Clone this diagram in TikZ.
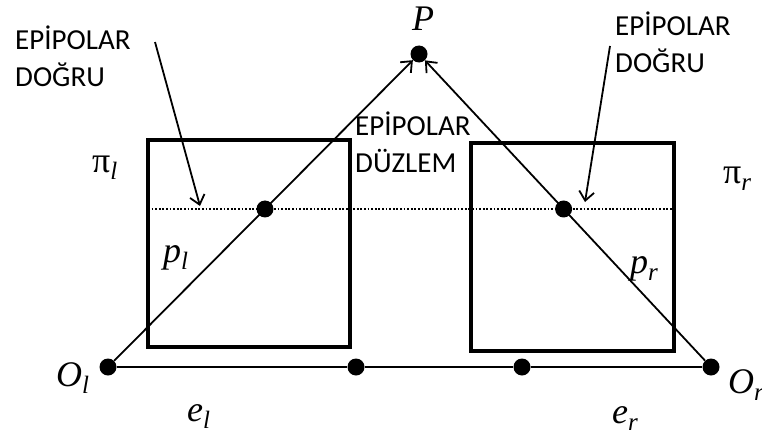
\documentclass[tikz,border=0pt]{standalone}
\usepackage{fontspec}
\setmainfont{Carlito}
\newfontfamily\serifpi{Liberation Serif}
\newcommand\eplabel[2]{#1\raisebox{-7pt}{\fontsize{25}{25}\selectfont\itshape #2}}
\usetikzlibrary{arrows.meta,calc}
\begin{document}
\begin{tikzpicture}[x=1pt,y=-1pt,
  dot/.style={circle,fill=black,inner sep=0pt,minimum size=17pt},
  frame/.style={draw=black,line width=3.2pt,inner sep=0pt},
  ray/.style={line width=1.8pt},
  epi/.style={line width=2.2pt,dash pattern=on 1.8pt off 1.8pt},
  lbl/.style={font=\fontsize{29}{37}\selectfont,align=left,inner sep=0pt,anchor=north west},
  mlbl/.style={font=\fontsize{36}{40}\selectfont\serifpi,inner sep=0pt,anchor=base west},
  tipc/.style={-{Straight Barb[length=9pt,width=15pt,line width=1.8pt]}}]
\useasboundingbox (0,0) rectangle (762,436);
% image planes
\node[frame,minimum width=202pt,minimum height=207pt] (Bl) at (249,243.5) {};
\node[frame,minimum width=203pt,minimum height=208pt] (Br) at (572.5,247) {};
% points
\node[dot] (P) at (419,54) {};
\node[dot] (Ol) at (108,367) {};
\node[dot] (Or) at (711,367) {};
\node[dot] (el) at (356,367) {};
\node[dot] (er) at (522,367) {};
\node[dot] (pl) at ($(Ol)!0.5048!(P)$) {};
\node[dot] (pr) at ($(Or)!0.5048!(P)$) {};
% epipolar line
\coordinate (dl) at (148,209);
\coordinate (dr) at (675,209);
\draw[epi] (dl) -- (dr);
% baseline
\draw[ray] (Ol) -- (el) -- (er) -- (Or);
% rays
\draw[ray,tipc] (Ol) -- (P);
\draw[ray,tipc] (Or) -- (P);
% annotation arrows
\coordinate (a1s) at (155,42);
\coordinate (a1e) at (200,206);
\coordinate (a2s) at (610,46);
\coordinate (a2e) at (585,202);
\draw[ray,tipc] (a1s) -- (a1e);
\draw[ray,tipc] (a2s) -- (a2e);
% text labels
\node[lbl] (tl) at (15,26) {EPİPOLAR\\DOĞRU};
\node[lbl] (tr) at (615,12) {EPİPOLAR\\DOĞRU};
\node[lbl] (tm) at (355,112) {EPİPOLAR\\DÜZLEM};
% math-style labels
\node[mlbl] (Plab) at (412,31) {\itshape P};
\node[mlbl] (Ollab) at (56,386) {\eplabel{\itshape O}{l}};
\node[mlbl] (Orlab) at (728,393) {\eplabel{\itshape O}{r}};
\node[mlbl] (ellab) at (187,421) {\eplabel{\itshape e}{l}};
\node[mlbl] (erlab) at (612,423) {\eplabel{\itshape e}{r}};
\node[mlbl] (pllab) at (163,262) {\eplabel{\itshape p}{l}};
\node[mlbl] (prlab) at (630,273) {\eplabel{\itshape p}{r}};
\node[mlbl] (pilab) at (92,172) {\eplabel{π}{l}};
\node[mlbl] (pirlab) at (723,183) {\eplabel{π}{r}};
\end{tikzpicture}
\end{document}
